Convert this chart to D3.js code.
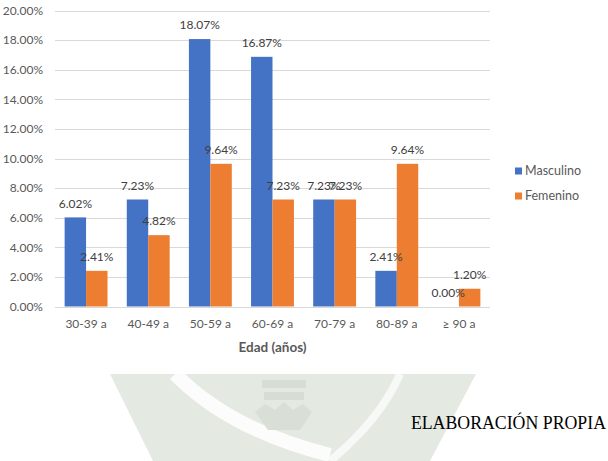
<!DOCTYPE html>
<html><head><meta charset="utf-8">
<script src="https://cdn.jsdelivr.net/npm/d3@7/dist/d3.min.js"></script>
<style>
html,body{margin:0;padding:0;background:#fff;}
svg{display:block;}
</style></head>
<body>
<svg id="chart" width="608" height="461"></svg>
<script>
const categories = ["30-39 a","40-49 a","50-59 a","60-69 a","70-79 a","80-89 a","\u2265 90 a"];
const seriesNames = ["Masculino","Femenino"];
const masculino = [6.02, 7.23, 18.07, 16.87, 7.23, 2.41, 0.00];
const femenino  = [2.41, 4.82, 9.64, 7.23, 7.23, 9.64, 1.20];
const yTicks = [0,2,4,6,8,10,12,14,16,18,20];
const colors = ["#4472C4","#ED7D31"];
const xTitle = "Edad (años)";
const sourceNote = "ELABORACIÓN PROPIA";

const svg = d3.select("#chart");
const font = "Lato, 'Open Sans', sans-serif";
const textCol = "#595959";

// watermark (faded emblem)
const wm = svg.append("g");
wm.append("path").attr("d","M110,374 L476,374 L430,461 L153,461 Z").attr("fill","#e4e9e2");
wm.append("path").attr("d","M175,374 Q230,430 330,455").attr("fill","none").attr("stroke","#fff").attr("stroke-width",14).attr("opacity",0.85);
wm.append("path").attr("d","M400,374 Q380,420 330,461").attr("fill","none").attr("stroke","#fff").attr("stroke-width",8).attr("opacity",0.7);
wm.append("rect").attr("x",262).attr("y",380).attr("width",44).attr("height",8).attr("fill","#d7ddd4");
wm.append("rect").attr("x",264).attr("y",392).attr("width",40).attr("height",8).attr("fill","#d7ddd4");
wm.append("path").attr("d","M255,412 L265,404 L275,410 L284,402 L293,410 L303,404 L312,412 L300,430 L268,430 Z").attr("fill","#d9dfd6");

const y = d3.scaleLinear().domain([0,20]).range([306.5,10.5]);
const x0 = d3.scaleBand().domain(categories).range([55,490]).paddingInner(0.31).paddingOuter(0.155);
const x1 = d3.scaleBand().domain(seriesNames).range([0,x0.bandwidth()]);

// gridlines
svg.append("g").selectAll("line").data(yTicks).join("line")
  .attr("x1",55).attr("x2",490)
  .attr("y1",d=>Math.round(y(d))+0.5).attr("y2",d=>Math.round(y(d))+0.5)
  .attr("stroke","#d9d9d9").attr("stroke-width",1);

// y axis labels
const yAxis = d3.axisLeft(y).tickValues(yTicks).tickSize(0).tickPadding(0).tickFormat(d=>d.toFixed(2)+"%");
const ga = svg.append("g").attr("transform","translate(43,0)").call(yAxis);
ga.select(".domain").remove();
ga.selectAll("text").attr("font-family",font).attr("font-size","12px").attr("fill",textCol);

// x axis labels
const xAxis = d3.axisBottom(x0).tickSize(0).tickPadding(0);
const gx = svg.append("g").attr("transform","translate(0,319)").call(xAxis);
gx.select(".domain").remove();
gx.selectAll("text").attr("font-family",font).attr("font-size","12px").attr("fill",textCol);

const data = categories.map((c,i)=>({cat:c, vals:[masculino[i], femenino[i]]}));

const groups = svg.append("g").selectAll("g").data(data).join("g")
  .attr("transform",d=>`translate(${x0(d.cat)},0)`);
groups.selectAll("rect").data(d=>d.vals.map((v,j)=>({name:seriesNames[j],v,j}))).join("rect")
  .attr("x",d=>x1(d.name)).attr("width",x1.bandwidth())
  .attr("y",d=>y(d.v)).attr("height",d=>y(0)-y(d.v))
  .attr("fill",d=>colors[d.j]);

// value labels
const labelG = svg.append("g");
data.forEach(d=>{
  d.vals.forEach((v,j)=>{
    labelG.append("text")
      .attr("x", x0(d.cat)+x1(seriesNames[j])+x1.bandwidth()/2)
      .attr("y", y(v)-14)
      .attr("dy","0.35em")
      .attr("text-anchor","middle")
      .attr("font-family",font).attr("font-size","12px").attr("fill","#404040")
      .text(v.toFixed(2)+"%");
  });
});

// x title
svg.append("text").attr("x",272.5).attr("y",347).attr("dy","0.35em")
  .attr("text-anchor","middle").attr("font-family",font).attr("font-weight","bold")
  .attr("font-size","13.5px").attr("fill",textCol).text(xTitle);

// legend
const lg = svg.append("g").selectAll("g").data(seriesNames).join("g")
  .attr("transform",(d,i)=>`translate(515,${171+i*25})`);
lg.append("rect").attr("x",0).attr("y",-3.5).attr("width",7).attr("height",7).attr("fill",(d,i)=>colors[i]);
lg.append("text").attr("x",10).attr("y",0).attr("dy","0.35em")
  .attr("font-family",font).attr("font-size","12.5px").attr("fill",textCol).text(d=>d);

// source note
svg.append("text").attr("x",606).attr("y",423).attr("dy","0.35em").attr("text-anchor","end")
  .attr("font-family","'Liberation Serif','Times New Roman',serif").attr("font-size","17.8px")
  .attr("fill","#000").text(sourceNote);
</script>
</body></html>
